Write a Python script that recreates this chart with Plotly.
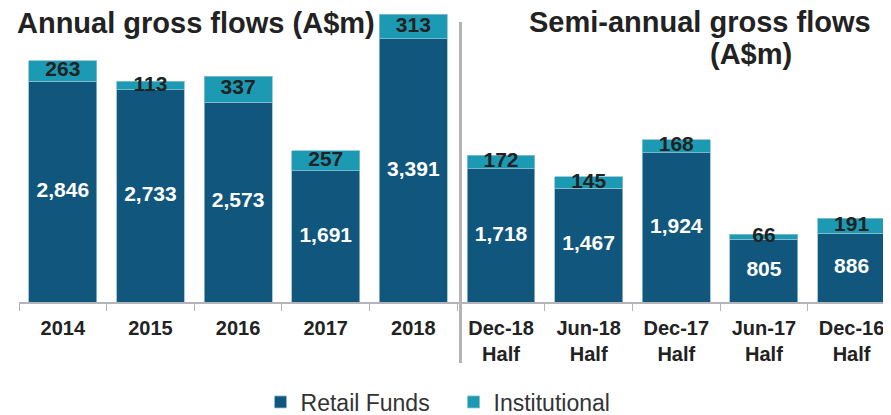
import plotly.graph_objects as go

categories = ["2014", "2015", "2016", "2017", "2018",
              "Dec-18<br>Half", "Jun-18<br>Half", "Dec-17<br>Half",
              "Jun-17<br>Half", "Dec-16<br>Half"]
retail = [2846, 2733, 2573, 1691, 3391, 1718, 1467, 1924, 805, 886]
institutional = [263, 113, 337, 257, 313, 172, 145, 168, 66, 191]

retail_color = "#11567c"
inst_color = "#1c9ab3"
font = "Arial, Liberation Sans, sans-serif"

# the page body has an 8px margin, so the figure is sized to fit the window
W, H = 883, 407
L, B = 11, 113
PW, PH = W - L, H - B


def px(x):
    return (x - 8 - L) / PW


def py(y):
    return (PH - (y - 8)) / PH


fig = go.Figure()
fig.add_trace(go.Bar(
    x=categories, y=retail, name="Retail Funds",
    marker=dict(color=retail_color, line=dict(color="#8cbfcf", width=0.8)),
    hoverinfo="skip",
))
fig.add_trace(go.Bar(
    x=categories, y=institutional, name="Institutional",
    marker=dict(color=inst_color, line=dict(color="#8cbfcf", width=0.8)),
    hoverinfo="skip",
))

# value labels
fig.add_trace(go.Scatter(
    x=categories, y=[r / 2 for r in retail], mode="text",
    text=[f"{r:,}" for r in retail],
    textfont=dict(family=font, size=21, color="white", weight="bold"),
    showlegend=False, hoverinfo="skip",
))
fig.add_trace(go.Scatter(
    x=categories, y=[r + i / 2 for r, i in zip(retail, institutional)],
    mode="text", text=[f"{i:,}" for i in institutional],
    textfont=dict(family=font, size=21, color="#222222", weight="bold"),
    showlegend=False, hoverinfo="skip",
))

title_font = dict(family=font, size=29, color="#222222")

fig.update_layout(
    width=W, height=H,
    margin=dict(l=L, r=0, t=0, b=B, autoexpand=False),
    barmode="stack", bargap=0.225,
    plot_bgcolor="white", paper_bgcolor="white",
    font=dict(family=font, color="#222222"),
    xaxis=dict(
        type="category", range=[-0.5, 9.45], automargin=False,
        showline=True, linecolor="#b4b4b8", linewidth=2,
        ticks="outside", tickson="boundaries", ticklen=7, tickcolor="#b4b4b8",
        ticklabelstandoff=7,
        tickfont=dict(family=font, size=20, color="#222222", weight="bold"),
        showgrid=False,
    ),
    yaxis=dict(range=[0, PH / 0.07765], visible=False, showgrid=False,
               automargin=False),
    showlegend=True,
    legend=dict(
        orientation="h", x=0.277, xanchor="left", y=py(402), yanchor="middle",
        font=dict(family=font, size=23, color="#333333"),
        entrywidth=148, traceorder="normal",
    ),
    annotations=[
        dict(text="<b>Annual gross flows (A$m)</b>", xref="paper", yref="paper",
             x=px(15), y=py(22.5), xanchor="left", yanchor="middle",
             showarrow=False, font=title_font),
        dict(text="<b>Semi-annual gross flows</b>", xref="paper", yref="paper",
             x=px(699.5), y=py(22), xanchor="center", yanchor="middle",
             showarrow=False, font=title_font),
        dict(text="<b>(A$m)</b>", xref="paper", yref="paper",
             x=px(751), y=py(54), xanchor="center", yanchor="middle",
             showarrow=False, font=title_font),
    ],
    shapes=[
        dict(type="line", xref="paper", yref="paper",
             x0=px(460.5), x1=px(460.5), y0=py(22), y1=py(363),
             line=dict(color="#b4b4b8", width=3)),
    ],
)

fig.write_html("out.html")
